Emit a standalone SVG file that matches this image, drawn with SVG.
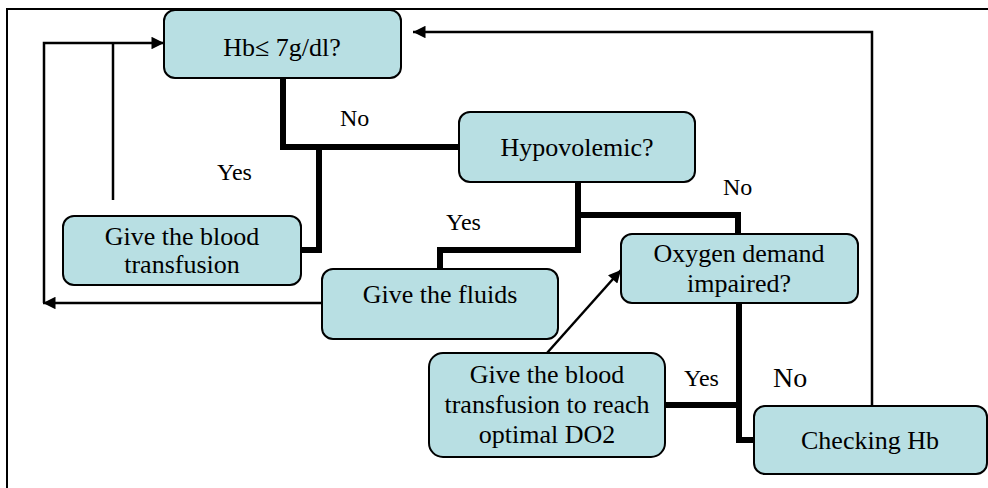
<svg xmlns="http://www.w3.org/2000/svg" width="988" height="488" viewBox="0 0 988 488">
<defs>
<style>
.box{fill:#b8dfe3;stroke:#000;stroke-width:2}
.t{font-family:"Liberation Serif","DejaVu Serif",serif;font-size:26px;fill:#000;text-anchor:middle}
.lbl{font-family:"Liberation Serif","DejaVu Serif",serif;font-size:24px;fill:#000}
.thick{fill:none;stroke:#000;stroke-width:6;stroke-linejoin:miter}
.thin{fill:none;stroke:#000;stroke-width:2.5}
</style>
<marker id="ah" viewBox="0 0 10 10" refX="10" refY="5" markerWidth="6" markerHeight="5" markerUnits="strokeWidth" orient="auto">
<path d="M0,0 L10,5 L0,10 z" fill="#000"/>
</marker>
</defs>
<rect width="988" height="488" fill="#fff"/>
<rect x="7" y="9" width="1000" height="500" fill="none" stroke="#000" stroke-width="2"/>

<g id="connectors">
<polyline class="thick" points="283,78 283,147 459,147"/>
<polyline class="thick" points="319,147 319,250 301,250"/>
<polyline class="thick" points="578,182 578,250 440,250 440,269"/>
<polyline class="thick" points="578,215 738,215 738,234"/>
<polyline class="thick" points="739,303 739,440 754,440"/>
<polyline class="thick" points="665,405 739,405"/>
<polyline class="thin" points="872,406 872,32 413,32" marker-end="url(#ah)"/>
<polyline class="thin" points="322,303 43,303" marker-end="url(#ah)"/>
<polyline class="thin" points="44,303 44,43 164,43" marker-end="url(#ah)"/>
<polyline class="thin" points="113,200 113,43"/>
<line class="thin" x1="547" y1="353" x2="621" y2="270" marker-end="url(#ah)"/>
</g>

<g id="labels">
<text class="lbl" x="340" y="126">No</text>
<text class="lbl" x="217" y="180">Yes</text>
<text class="lbl" x="446" y="230">Yes</text>
<text class="lbl" x="723" y="195">No</text>
<text class="lbl" x="684" y="386">Yes</text>
<text class="lbl" x="773" y="387" style="font-size:28px">No</text>
</g>

<g id="hb">
<rect class="box" x="164" y="10" width="237" height="68" rx="11"/>
<text class="t" x="282" y="56">Hb≤ 7g/dl?</text>
</g>
<g id="hypovolemic">
<rect class="box" x="459" y="112" width="236" height="70" rx="11"/>
<text class="t" x="577" y="156">Hypovolemic?</text>
</g>
<g id="transfusion">
<rect class="box" x="63" y="216" width="238" height="69" rx="11"/>
<text class="t" x="182" y="245">Give the blood</text>
<text class="t" x="182" y="273">transfusion</text>
</g>
<g id="fluids">
<rect class="box" x="322" y="269" width="236" height="70" rx="11"/>
<text class="t" x="440" y="303">Give the fluids</text>
</g>
<g id="oxygen">
<rect class="box" x="621" y="234" width="237" height="69" rx="11"/>
<text class="t" x="739" y="262">Oxygen demand</text>
<text class="t" x="739" y="292">impaired?</text>
</g>
<g id="do2">
<rect class="box" x="429" y="353" width="236" height="104" rx="14"/>
<text class="t" x="547" y="383">Give the blood</text>
<text class="t" x="547" y="413">transfusion to reach</text>
<text class="t" x="547" y="443">optimal DO2</text>
</g>
<g id="checking">
<rect class="box" x="754" y="406" width="233" height="68" rx="11"/>
<text class="t" x="870" y="449">Checking Hb</text>
</g>
</svg>
